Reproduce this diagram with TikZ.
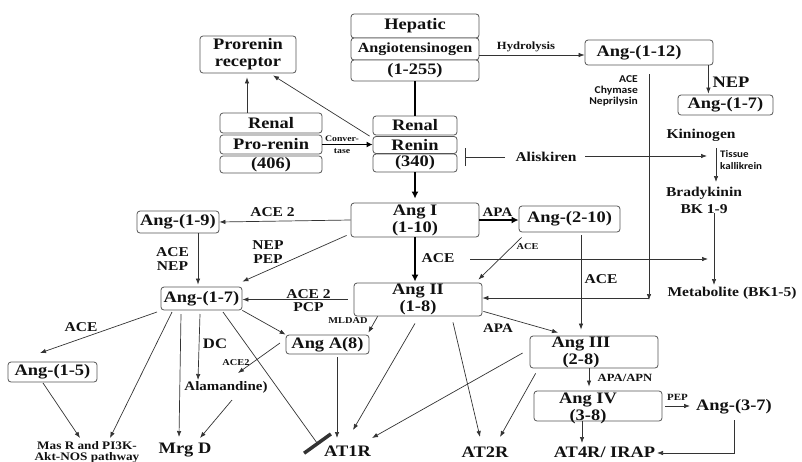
\documentclass[tikz,border=0pt]{standalone}
\usepackage{fontspec}
\setmainfont{Liberation Serif}[FakeStretch=1.15]
\newfontfamily\sansf{Carlito}[FakeStretch=1.1]
\usetikzlibrary{arrows.meta}
\definecolor{ln}{HTML}{333333}
\definecolor{bx}{HTML}{555555}
\definecolor{tx}{HTML}{111111}
\begin{document}
\begin{tikzpicture}[x=1pt,y=-1pt,
 box/.style={draw=bx, rounded corners=3pt, line width=0.8pt, inner sep=0pt, fill=white, text=tx},
 txt/.style={inner sep=0pt, text=tx},
 fA/.style={font=\fontsize{16}{17}\selectfont\bfseries},
 fB/.style={font=\fontsize{13.5}{14}\selectfont\bfseries},
 fC/.style={font=\fontsize{11}{11}\selectfont\bfseries},
 fD/.style={font=\fontsize{9}{9}\selectfont\bfseries},
 fS/.style={font=\sansf\fontsize{10.5}{11}\selectfont\bfseries},
 arr/.style={draw=ln, line width=0.7pt, -{Latex[length=6pt,width=4.5pt]}},
 thk/.style={draw=black, line width=2.6pt, -{Latex[length=7pt,width=7pt]}},
]
\useasboundingbox (0,0) rectangle (802,461);

% ---------- boxes ----------
\node[box,fA,minimum width=128pt,minimum height=24pt] (hep) at (415,26) {Hepatic};
\node[box,font=\fontsize{14}{14}\selectfont\bfseries,minimum width=128pt,minimum height=22pt] (angio) at (415,49) {Angiotensinogen};
\node[box,fA,minimum width=128pt,minimum height=21pt] (a255) at (415,70.5) {(1-255)};

\node[box,fA,align=center,minimum width=96pt,minimum height=37pt] (rec) at (248,54.5) {Prorenin\\receptor};

\node[box,fA,minimum width=102pt,minimum height=20pt] (renal1) at (271,123) {Renal};
\node[box,fA,minimum width=102pt,minimum height=19pt] (prorenin) at (271,144.5) {Pro-renin};
\node[box,fA,minimum width=102pt,minimum height=17pt] (p406) at (271,164.5) {(406)};

\node[box,fA,minimum width=84pt,minimum height=19pt] (renal2) at (415,125.5) {Renal};
\node[box,fA,minimum width=84pt,minimum height=17pt] (renin) at (415,145) {Renin};
\node[box,fA,minimum width=84pt,minimum height=18pt] (r340) at (415,163) {(340)};

\node[box,fA,minimum width=128pt,minimum height=25pt] (a112) at (649,52.5) {\hspace*{-20pt}Ang-(1-12)};
\node[box,fA,minimum width=95pt,minimum height=20pt] (a17t) at (725.5,105) {Ang-(1-7)};

\node[box,fA,align=center,minimum width=128pt,minimum height=34pt] (angI) at (415,220) {Ang I\\(1-10)};
\node[box,fA,minimum width=101pt,minimum height=26pt] (a210) at (569.5,219) {Ang-(2-10)};
\node[box,fA,align=center,minimum width=128pt,minimum height=33pt] (angII) at (418,299.5) {Ang II\\(1-8)};
\node[box,minimum width=128pt,minimum height=32pt] (angIII) at (594,352) {};
\node[txt,fA,align=center] (angIIIt) at (581,352.5) {Ang III\\(2-8)};
\node[box,minimum width=128pt,minimum height=30pt] (angIV) at (598,406) {};
\node[txt,fA,align=center] (angIVt) at (588,408) {Ang IV\\(3-8)};

\node[box,fA,minimum width=82pt,minimum height=22pt] (a19) at (178,222) {Ang-(1-9)};
\node[box,fA,minimum width=81pt,minimum height=23pt] (a17) at (201.5,298.5) {Ang-(1-7)};
\node[box,fA,minimum width=83pt,minimum height=19pt] (angA8) at (327.5,344.5) {Ang A(8)};
\node[box,fA,minimum width=89pt,minimum height=20pt] (a15) at (52.5,372) {Ang-(1-5)};

% ---------- text-only nodes ----------
\node[txt,fC] (lHyd) at (526,47) {Hydrolysis};
\node[txt,fA] (lNEP) at (731,82) {NEP};
\node[txt,fS,align=right,anchor=east] (lACE3) at (638,91) {ACE\\Chymase\\Neprilysin};
\node[txt,align=center,font=\fontsize{8.5}{12}\selectfont\bfseries] (lConv) at (342,145) {Conver-\\tase};
\node[txt,fB] (alis) at (546,157) {Aliskiren};
\node[txt,fB] (kin) at (701,135) {Kininogen};
\node[txt,align=left,anchor=west,font=\sansf\fontsize{10}{12}\selectfont\bfseries] (lTK) at (720,160) {Tissue\\kallikrein};
\node[txt,align=center,font=\fontsize{13.5}{17}\selectfont\bfseries] (brady) at (704,200) {Bradykinin\\BK 1-9};
\node[txt,fB] (metab) at (732,293) {Metabolite (BK1-5)};
\node[txt,fB] (lACE) at (438,258) {ACE};
\node[txt,font=\fontsize{13}{13}\selectfont\bfseries] (lAPA1) at (497.5,212) {APA};
\node[txt,fD] (lACEs) at (527.5,247) {ACE};
\node[txt,fB] (lACE4) at (601,279) {ACE};
\node[txt,font=\fontsize{13}{13}\selectfont\bfseries] (lAPA2) at (498,328) {APA};
\node[txt,fC] (lAPAN) at (625,378) {APA/APN};
\node[txt,font=\fontsize{9.5}{9.5}\selectfont\bfseries] (lPEP) at (677.5,397) {PEP};
\node[txt,fA] (a37) at (734,407) {Ang-(3-7)};
\node[txt,fA] (at4r) at (604.5,452) {AT4R/ IRAP};
\node[txt,fA] (at2r) at (485,452) {AT2R};
\node[txt,fA] (at1r) at (347.5,451) {AT1R};
\node[txt,fA] (mrgd) at (185,450) {Mrg D};
\node[txt,align=center,font=\fontsize{11.5}{10.5}\selectfont\bfseries] (masr) at (87,452) {Mas R and PI3K-\\Akt-NOS pathway};
\node[txt,font=\fontsize{13}{13}\selectfont\bfseries] (alam) at (226,387) {Alamandine)};
\node[txt,font=\fontsize{14.5}{14.5}\selectfont\bfseries] (lDC) at (215,344) {DC};
\node[txt,fD] (lACE2s) at (236,363) {ACE2};
\node[txt,fD] (lMLDAD) at (348,321) {MLDAD};
\node[txt,align=center,font=\fontsize{13.5}{13}\selectfont\bfseries] (lACE2P) at (308.5,300.5) {ACE 2\\PCP};
\node[txt,fB] (lACE2top) at (272.5,212) {ACE 2};
\node[txt,align=center,fB] (lNEPPEP) at (268,252) {NEP\\PEP};
\node[txt,align=center,fB] (lACENEP) at (172.5,259) {ACE\\NEP};
\node[txt,fB] (lACE5) at (81,327) {ACE};

% ---------- main (thick) path ----------
\draw[draw=black, line width=2.6pt] (a255.south) -- (renal2.north);
\draw[thk, shorten >=4pt] (r340.south) -- (angI.north);
\draw[thk, shorten >=1pt] (angI.south) -- (angI.south |- angII.north);
\draw[thk] (angI.east) -- (angI.east -| a210.west);
\draw[draw=black, line width=1.4pt, -{Latex[length=6pt,width=6pt]}] (prorenin.east) -- (prorenin.east -| renin.west);

% ---------- top part ----------
\draw[arr, shorten >=4pt] ([xshift=-24pt]renal1.north) -- ([xshift=-24pt]renal1.north |- rec.south);
\draw[arr] ([shift={(-3,0)}]renin.north west) -- ([shift={(25,2)}]rec.south);
\draw[arr] ([yshift=-6pt]angio.east) -- ([yshift=-6pt]angio.east -| a112.west);
\draw[arr, shorten >=1pt] ([xshift=-5pt]a112.south east) -- ([xshift=-5pt]a112.south east |- a17t.north);
\coordinate (c1) at (649,298);
\draw[arr, shorten <=9pt] (a112.south) -- ([yshift=-2pt]c1);
\draw[arr] (c1) -- (c1 -| angII.east);

% Aliskiren
\draw[draw=ln, line width=0.8pt, -{Bar[width=18pt,line width=1.2pt]}] ([shift={(-41,0)}]alis.center) -- ([shift={(-81,0)}]alis.center);
\draw[arr] ([shift={(39,-1)}]alis.center) -- ([shift={(161,-1)}]alis.center);

% kinin system
\draw[arr] ([shift={(15,13)}]kin.center) -- ([shift={(12,-18)}]brady.center);
\draw[arr] ([shift={(10,13)}]brady.center) -- ([shift={(-18,-8)}]metab.center);
\draw[arr] ([shift={(32,1)}]lACE.center) -- ([shift={(270,1)}]lACE.center);

% ---------- left part ----------
\draw[arr] (angI.west) -- (a19.east);
\draw[arr] ([shift={(-4,-2)}]angI.south west) -- ([shift={(0,-5)}]a17.north east);
\draw[arr, shorten >=2pt] ([xshift=-3.5pt]a17.north |- a19.south) -- ([xshift=-3.5pt]a17.north);
\draw[arr, shorten <=6pt] (angII.west) -- (angII.west -| a17.east);
\draw[arr] ([xshift=24pt]angII.south west) -- ([shift={(-1,-2)}]angA8.north east);
\draw[arr] (a17.south east) -- (angA8.north west);

% receptors
\draw[arr] ([shift={(9.5,12.5)}]angA8.center) -- ([shift={(-10.5,-13)}]at1r.center);
\draw[arr] ([shift={(-3,7)}]angII.south) -- ([shift={(5.5,-21)}]at1r.center);
\draw[arr] ([shift={(-7,1)}]angIII.west) -- ([shift={(24.5,-13)}]at1r.center);
\draw[draw=ln, line width=0.7pt, -{Bar[width=33pt,line width=3.5pt]}] ([shift={(21.5,13.5)}]a17.center) -- ([shift={(-29,-6)}]at1r.center);
\draw[arr] ([shift={(35,6)}]angII.south) -- ([shift={(-5,-15)}]at2r.center);
\draw[arr] ([shift={(6,5)}]angIII.south west) -- ([shift={(15,-15)}]at2r.center);

% right middle
\draw[arr, shorten <=3pt, shorten >=6pt] ([xshift=11.5pt]a210.south) -- ([xshift=11.5pt]a210.south |- angIII.north);
\draw[arr] ([shift={(1,-5)}]angII.south east) -- ([shift={(-36,-3)}]angIII.north);
\draw[arr] ([shift={(3,5)}]a210.south west) -- ([shift={(-4,-3)}]angII.north east);
\draw[arr, shorten >=4pt] ([xshift=-5pt]angIII.south) -- ([xshift=-5pt]angIII.south |- angIV.north);
\draw[arr, shorten <=3pt] (angIV.east) -- ([shift={(-44,-1)}]a37.center);
\draw[arr] ([xshift=-16pt]angIV.south) -- ([shift={(-22.5,-9)}]at4r.center);
\draw[arr] ([shift={(0,13)}]a37.center) |- ([shift={(52.5,1)}]at4r.center);

% bottom left
\draw[arr] ([shift={(-44.5,13.5)}]a17.center) -- ([shift={(-12.5,-19)}]a15.center);
\draw[arr] ([shift={(-9.5,11)}]a15.center) -- ([shift={(-7,-14)}]masr.center);
\draw[arr] ([shift={(-29.5,13.5)}]a17.center) -- ([shift={(23,-14)}]masr.center);
\draw[arr] ([shift={(-20.5,15.5)}]a17.center) -- ([shift={(-6,-13)}]mrgd.center);
\draw[arr] ([shift={(-1.5,15.5)}]a17.center) -- ([shift={(-28,-7)}]alam.center);
\draw[arr] ([shift={(-47.5,-1.5)}]angA8.center) -- ([shift={(12,-14)}]alam.center);
\draw[arr] ([shift={(6,13)}]alam.center) -- ([shift={(15,-12)}]mrgd.center);
\end{tikzpicture}
\end{document}
